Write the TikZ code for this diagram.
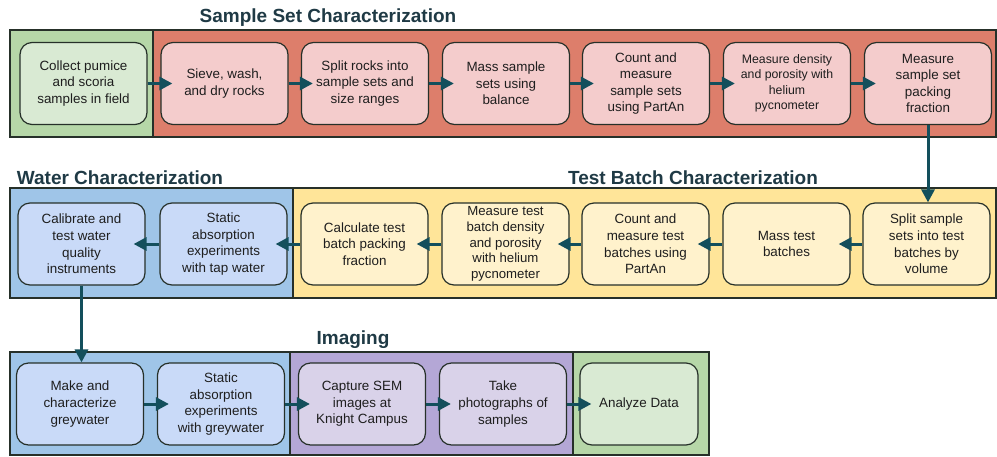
\documentclass[tikz,border=0pt]{standalone}
\usepackage{fontspec}
\setmainfont{Liberation Sans}
\usetikzlibrary{arrows.meta}
\definecolor{bandgreen}{HTML}{B6D7A8}
\definecolor{boxgreen}{HTML}{D9EAD3}
\definecolor{bandred}{HTML}{DD7E6B}
\definecolor{boxred}{HTML}{F4CCCC}
\definecolor{bandyellow}{HTML}{FFE599}
\definecolor{boxyellow}{HTML}{FFF2CC}
\definecolor{bandblue}{HTML}{9FC5E8}
\definecolor{boxblue}{HTML}{C9DAF8}
\definecolor{bandpurple}{HTML}{B4A7D6}
\definecolor{boxpurple}{HTML}{D9D2E9}
\definecolor{arrowcol}{HTML}{134F5C}
\definecolor{titlecol}{HTML}{1F3A45}
\definecolor{linecol}{HTML}{263029}
\definecolor{txtcol}{HTML}{1E1E1E}
\tikzset{
  band/.style={draw=linecol, line width=1.3pt},
  stepbox/.style={draw=linecol, line width=1.2pt, rounded corners=12pt,
    minimum width=127pt, minimum height=82pt, align=center, text=txtcol,
    font=\fontsize{13.4}{16.6}\selectfont, inner sep=1pt},
  smalltext/.style={font=\fontsize{12.3}{15.5}\selectfont},
  midtext/.style={font=\fontsize{13.2}{15.8}\selectfont},
  title/.style={text=titlecol, font=\fontsize{19}{22}\selectfont\bfseries},
  flow/.style={draw=arrowcol, line width=3pt, -{Triangle[length=13pt,width=13pt]}}
}
\begin{document}
\begin{tikzpicture}[x=1pt,y=-1pt]
\useasboundingbox (0,0) rectangle (997,456);
\fill[white] (0,0) rectangle (997,456);
% bands
\filldraw[band, fill=bandgreen] (10,30) rectangle (153,137);
\filldraw[band, fill=bandred] (153,30) rectangle (996,137);
\filldraw[band, fill=bandblue] (10,188) rectangle (293,298);
\filldraw[band, fill=bandyellow] (293,188) rectangle (996,298);
\filldraw[band, fill=bandblue] (10,352) rectangle (290,455);
\filldraw[band, fill=bandpurple] (290,352) rectangle (573,455);
\filldraw[band, fill=bandgreen] (573,352) rectangle (709,455);
% titles
\node[title] (t1) at (328,18) {Sample Set Characterization};
\node[title] (t2) at (120,178) {Water Characterization};
\node[title] (t3) at (693,178) {Test Batch Characterization};
\node[title] (t4) at (353,340) {Imaging};
% top row
\node[stepbox, fill=boxgreen] (a1) at (83.5,83.5) {Collect pumice\\and scoria\\samples in field};
\node[stepbox, fill=boxred] (a2) at (224.5,83.5) {Sieve, wash,\\and dry rocks};
\node[stepbox, fill=boxred] (a3) at (365,83.5) {Split rocks into\\sample sets and\\size ranges};
\node[stepbox, fill=boxred] (a4) at (506,83.5) {Mass sample\\sets using\\balance};
\node[stepbox, fill=boxred] (a5) at (646,83.5) {Count and\\measure\\sample sets\\using PartAn};
\node[stepbox, fill=boxred, smalltext] (a6) at (787,83.5) {Measure density\\and porosity with\\helium\\pycnometer};
\node[stepbox, fill=boxred] (a7) at (928,83.5) {Measure\\sample set\\packing\\fraction};
% middle row
\node[stepbox, fill=boxblue] (b1) at (81.5,244) {Calibrate and\\test water\\quality\\instruments};
\node[stepbox, fill=boxblue] (b2) at (223.5,244) {Static\\absorption\\experiments\\with tap water};
\node[stepbox, fill=boxyellow] (b3) at (364.5,244) {Calculate test\\batch packing\\fraction};
\node[stepbox, fill=boxyellow, midtext] (b4) at (505.5,244) {Measure test\\batch density\\and porosity\\with helium\\pycnometer};
\node[stepbox, fill=boxyellow] (b5) at (645.5,244) {Count and\\measure test\\batches using\\PartAn};
\node[stepbox, fill=boxyellow] (b6) at (786.5,244) {Mass test\\batches};
\node[stepbox, fill=boxyellow] (b7) at (926.5,244) {Split sample\\sets into test\\batches by\\volume};
% bottom row
\node[stepbox, fill=boxblue] (c1) at (80,404) {Make and\\characterize\\greywater};
\node[stepbox, fill=boxblue] (c2) at (221,404) {Static\\absorption\\experiments\\with greywater};
\node[stepbox, fill=boxpurple] (c3) at (362,404) {Capture SEM\\images at\\Knight Campus};
\node[stepbox, fill=boxpurple] (c4) at (503,404) {Take\\photographs of\\samples};
\node[stepbox, fill=boxgreen, minimum width=118pt] (c5) at (639,404) {Analyze Data};
% arrows top row
\draw[flow] (a1.east) -- ([xshift=12pt]a2.west);
\draw[flow] (a2.east) -- ([xshift=12pt]a3.west);
\draw[flow] (a3.east) -- ([xshift=12pt]a4.west);
\draw[flow] (a4.east) -- ([xshift=12pt]a5.west);
\draw[flow] (a5.east) -- ([xshift=12pt]a6.west);
\draw[flow] (a6.east) -- ([xshift=12pt]a7.west);
\draw[flow] (a7.south) -- (a7.south |- b7.north);
% arrows middle row
\draw[flow] (b7.west) -- ([xshift=-12pt]b6.east);
\draw[flow] (b6.west) -- ([xshift=-12pt]b5.east);
\draw[flow] (b5.west) -- ([xshift=-12pt]b4.east);
\draw[flow] (b4.west) -- ([xshift=-12pt]b3.east);
\draw[flow] (b3.west) -- ([xshift=-12pt]b2.east);
\draw[flow] (b2.west) -- ([xshift=-12pt]b1.east);
\draw[flow] (b1.south) -- (b1.south |- c1.north);
% arrows bottom row
\draw[flow] (c1.east) -- ([xshift=12pt]c2.west);
\draw[flow] (c2.east) -- ([xshift=12pt]c3.west);
\draw[flow] (c3.east) -- ([xshift=12pt]c4.west);
\draw[flow] (c4.east) -- ([xshift=12pt]c5.west);
\end{tikzpicture}
\end{document}
